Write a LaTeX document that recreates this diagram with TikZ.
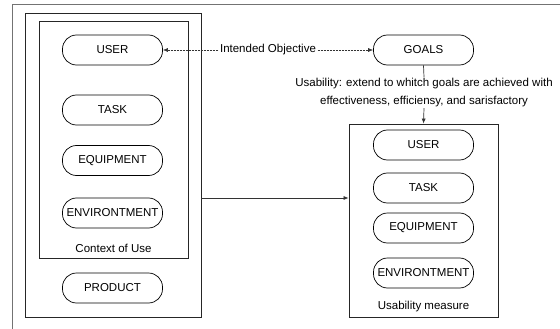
\documentclass[tikz,border=0pt]{standalone}
\usepackage{fontspec}
\setmainfont{Liberation Sans}
\usetikzlibrary{arrows.meta}

\begin{document}
\begin{tikzpicture}[
    x=1pt, y=-1pt,
    every node/.style={font=\fontsize{11.5}{18}\selectfont},
    pill/.style={draw=black, rounded corners=14pt, fill=white, align=center,
                 inner sep=1pt, minimum width=100pt, minimum height=30pt,
                 line width=0.7pt},
    frame/.style={draw=black!85, inner sep=0pt, line width=0.8pt},
    caption/.style={inner sep=1pt},
    arrow/.style={-{Latex[length=5pt,width=4pt]}, line width=0.7pt, draw=black!80},
    dasharrow/.style={{Latex[length=5pt,width=4pt]}-{Latex[length=5pt,width=4pt]},
                      line width=0.6pt, draw=black!80, dash pattern=on 2pt off 1pt},
]
\useasboundingbox (0,0) rectangle (560,329);

% Outer frame (open to the right and bottom)
\draw[black!55, line width=1pt] (12,329) |- (560,5);

% Frames
\node[frame, minimum width=176pt, minimum height=304pt] (product) at (113,165)   {};
\node[frame, minimum width=149pt, minimum height=237pt] (context) at (113.5,139.5) {};
\node[frame, minimum width=149pt, minimum height=193pt] (measure) at (423.5,220.5) {};

% Context of use column
\node[pill] (user)    at (112.5,50)  {USER};
\node[pill] (task)    at (112.5,110) {TASK};
\node[pill] (equip)   at (112.5,160.5) {EQUIPMENT};
\node[pill] (envir)   at (112.5,213) {ENVIRONTMENT};
\node[caption] (ctxlabel) at (113.5,248) {Context of Use};
\node[pill] (prod)    at (112.5,288) {PRODUCT};

% Goals and usability measure column
\node[pill] (goals)   at (423.5,50)  {GOALS};
\node[pill] (muser)   at (423.5,145) {USER};
\node[pill] (mtask)   at (423.5,188) {TASK};
\node[pill] (mequip)  at (423.5,228) {EQUIPMENT};
\node[pill] (menvir)  at (423.5,273) {ENVIRONTMENT};
\node[caption] (msrlabel) at (423.5,307) {Usability measure};

% Label between goals and measure
\node[caption, align=center] (usability) at (424,92.5)
    {Usability: extend to whitch goals are achieved with\\
     effectiveness, efficiensy, and sarisfactory};

% Connectors
\draw[dasharrow] (user.east) -- (goals.west)
    node[midway, fill=white, inner sep=1pt] (objective) {Intended Objective};
\draw[line width=0.7pt, draw=black!80] (goals.south) -- (usability.north);
\draw[arrow] (usability.south) -- (measure.north);
\coordinate (link) at (201,198);
\draw[arrow] (link) -- (link -| measure.west);
\end{tikzpicture}
\end{document}
